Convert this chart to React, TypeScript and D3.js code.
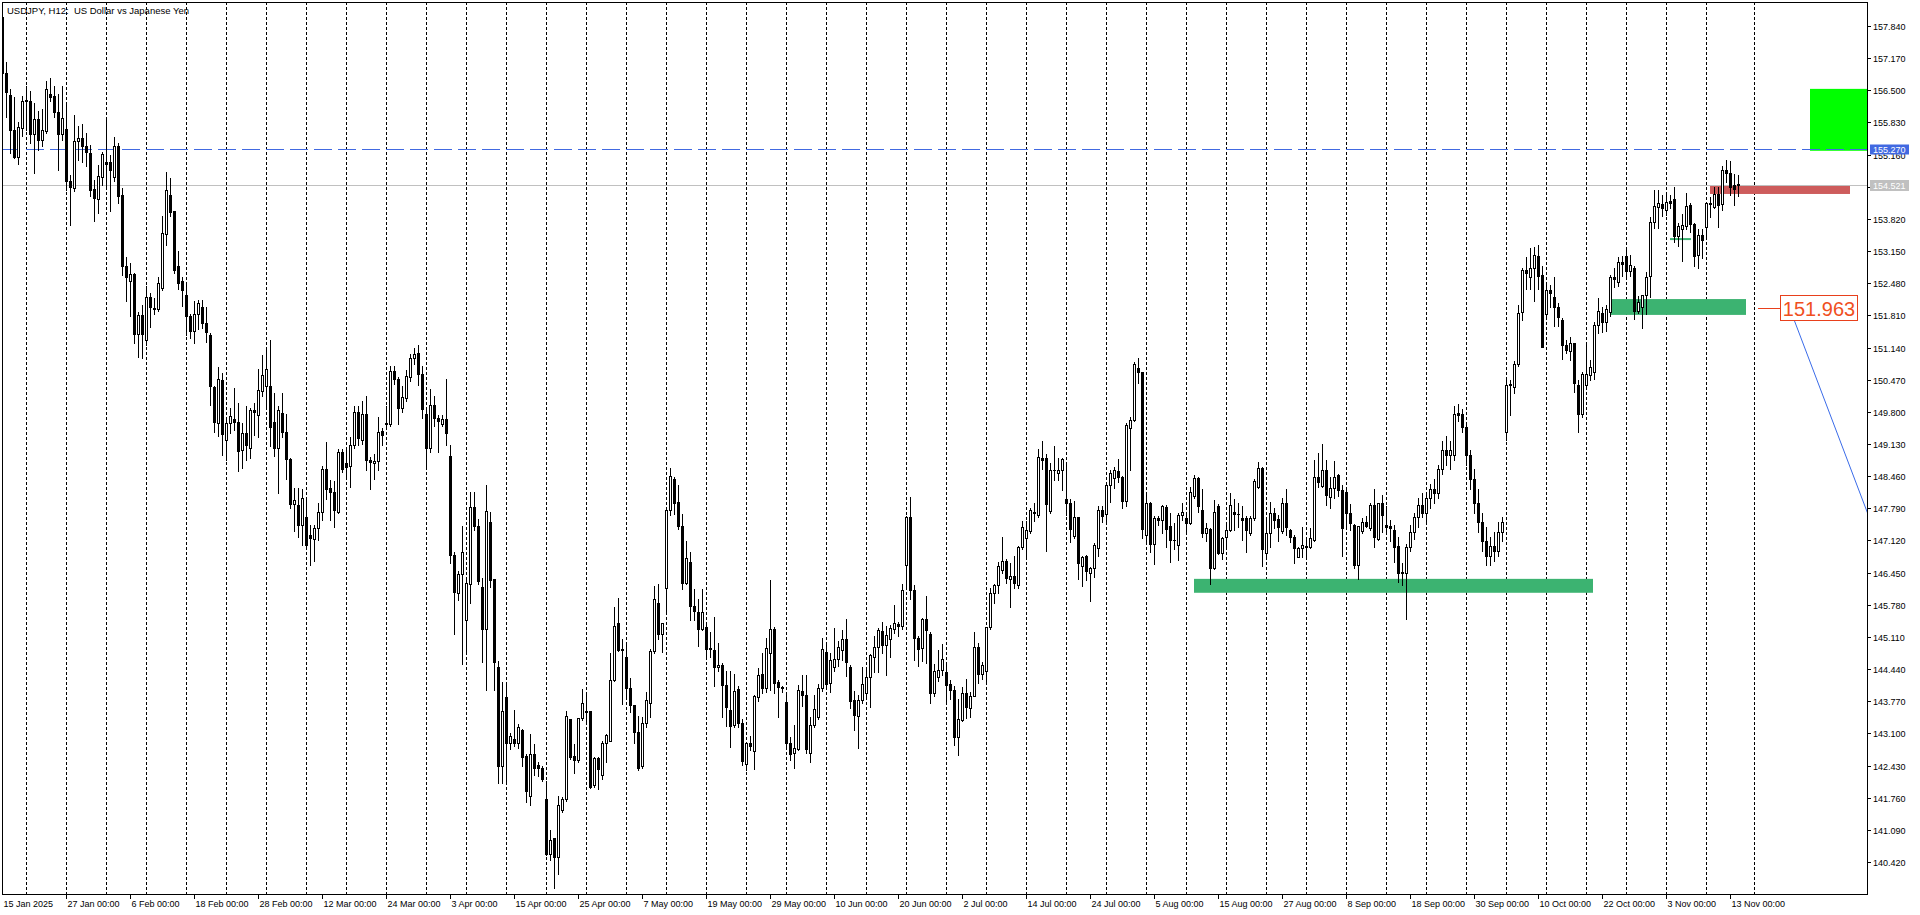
import React from 'react';
import * as d3 from 'd3';

// ---------- DATA ----------
const title = 'USDJPY, H12:  US Dollar vs Japanese Yen';

const timeLabels = [
  '15 Jan 2025', '27 Jan 00:00', '6 Feb 00:00', '18 Feb 00:00', '28 Feb 00:00', '12 Mar 00:00',
  '24 Mar 00:00', '3 Apr 00:00', '15 Apr 00:00', '25 Apr 00:00', '7 May 00:00', '19 May 00:00',
  '29 May 00:00', '10 Jun 00:00', '20 Jun 00:00', '2 Jul 00:00', '14 Jul 00:00', '24 Jul 00:00',
  '5 Aug 00:00', '15 Aug 00:00', '27 Aug 00:00', '8 Sep 00:00', '18 Sep 00:00', '30 Sep 00:00',
  '10 Oct 00:00', '22 Oct 00:00', '3 Nov 00:00', '13 Nov 00:00',
];
const barsPerLabel = 16;

const priceTicks = [
  140.42, 141.09, 141.76, 142.43, 143.10, 143.77, 144.44, 145.11, 145.78, 146.45, 147.12, 147.79,
  148.46, 149.13, 149.80, 150.47, 151.14, 151.81, 152.48, 153.15, 153.82, 154.49, 155.16, 155.83,
  156.50, 157.17, 157.84,
];

// [open, high, low, close]
const ohlc: number[][] = [
  [158.03, 158.05, 156.80, 156.86], [156.86, 157.08, 155.94, 156.46], [156.40, 156.52, 155.20, 155.67],
  [155.67, 156.36, 155.08, 155.12], [155.11, 155.83, 154.97, 155.73], [155.72, 156.38, 155.54, 156.28],
  [156.28, 156.59, 155.67, 156.29], [156.28, 156.49, 155.41, 155.58], [155.58, 156.24, 154.77, 155.90],
  [155.90, 156.06, 155.26, 155.47], [155.47, 156.11, 155.34, 155.67], [155.66, 156.70, 155.62, 156.52],
  [156.43, 156.76, 156.28, 156.37], [156.38, 156.58, 155.95, 156.04], [156.04, 156.42, 154.83, 155.58],
  [155.58, 156.58, 155.47, 155.92], [155.69, 156.24, 154.42, 154.60], [154.60, 154.74, 153.70, 154.49],
  [154.46, 155.99, 154.40, 155.45], [155.44, 155.76, 155.04, 155.50], [155.50, 155.80, 155.00, 155.33],
  [155.34, 155.61, 154.92, 155.22], [155.19, 155.36, 154.29, 154.42], [154.44, 154.63, 153.78, 154.25],
  [154.23, 154.95, 153.94, 154.72], [154.70, 155.22, 154.53, 155.17], [155.01, 155.88, 154.49, 154.97],
  [155.01, 155.15, 153.99, 154.84], [154.69, 155.52, 154.60, 155.33], [155.33, 155.41, 154.16, 154.29],
  [154.32, 154.46, 152.65, 152.83], [152.84, 153.02, 152.10, 152.60], [152.52, 152.90, 151.80, 152.67],
  [152.67, 152.69, 151.23, 151.43], [151.43, 151.89, 150.95, 151.82], [151.82, 152.03, 150.92, 151.43],
  [151.29, 152.42, 151.20, 152.19], [152.19, 152.27, 151.56, 151.98], [151.96, 152.17, 151.84, 151.94],
  [151.94, 152.61, 151.90, 152.48], [152.38, 153.88, 152.34, 153.52], [153.50, 154.80, 153.28, 154.42],
  [154.31, 154.67, 153.88, 153.97], [153.99, 153.99, 152.69, 152.76], [152.84, 153.16, 152.36, 152.49],
  [152.52, 152.60, 152.01, 152.33], [152.24, 152.47, 151.40, 151.79], [151.80, 151.84, 151.33, 151.49],
  [151.49, 152.10, 151.23, 151.84], [151.84, 152.13, 151.52, 152.06], [151.99, 152.13, 151.54, 151.65],
  [151.65, 151.99, 151.26, 151.47], [151.40, 151.44, 149.95, 150.33], [150.31, 150.33, 149.39, 149.58],
  [149.56, 150.74, 149.29, 150.48], [150.47, 150.61, 148.90, 149.33], [149.22, 149.63, 148.80, 149.56],
  [149.56, 149.88, 149.36, 149.72], [149.65, 150.29, 149.43, 149.58], [149.58, 149.99, 148.56, 148.99],
  [149.01, 149.56, 148.63, 149.36], [149.36, 149.93, 148.80, 149.11], [149.04, 149.88, 148.83, 149.84],
  [149.84, 149.98, 149.32, 149.79], [149.74, 150.69, 149.28, 150.26], [150.24, 150.99, 150.12, 150.57],
  [150.33, 151.09, 149.91, 150.69], [150.34, 151.30, 149.08, 149.48], [149.58, 150.19, 148.87, 149.04],
  [149.04, 149.93, 148.11, 149.83], [149.77, 150.20, 149.27, 149.37], [149.37, 149.76, 148.40, 148.81],
  [148.81, 148.83, 147.79, 147.88], [147.88, 148.21, 147.31, 147.97], [147.86, 148.21, 147.20, 147.45],
  [147.45, 148.19, 147.03, 148.00], [147.61, 148.00, 146.94, 147.03], [147.23, 147.45, 146.60, 147.17],
  [147.15, 147.45, 146.70, 147.38], [147.38, 147.90, 147.13, 147.71], [147.72, 148.67, 147.55, 148.61],
  [148.61, 149.18, 147.98, 148.19], [148.21, 148.37, 147.55, 148.14], [148.14, 148.35, 147.41, 147.76],
  [147.72, 149.02, 147.69, 148.97], [148.97, 149.02, 148.55, 148.61], [148.73, 149.04, 148.42, 148.66],
  [148.67, 149.28, 148.24, 149.11], [149.11, 149.93, 149.04, 149.79], [149.79, 149.93, 149.11, 149.25],
  // 90
  [149.22, 150.03, 149.12, 149.75], [149.75, 150.14, 148.59, 148.80], [148.80, 148.86, 148.19, 148.75],
  [148.74, 148.93, 148.40, 148.78], [148.78, 149.69, 148.59, 149.39], [149.40, 149.46, 149.10, 149.31],
  [149.57, 149.92, 149.45, 149.55], [149.55, 150.76, 149.50, 150.66], [150.66, 150.75, 150.37, 150.48],
  [150.48, 150.52, 149.54, 149.88], [149.88, 150.33, 149.80, 150.11], [150.09, 150.67, 150.03, 150.54],
  [150.52, 151.00, 150.45, 150.92], [150.92, 151.14, 150.79, 151.00], [151.03, 151.20, 150.36, 150.58],
  [150.58, 150.75, 149.67, 149.86], [149.75, 149.88, 148.67, 149.05], [149.05, 150.28, 148.97, 149.95],
  [149.95, 150.14, 149.50, 149.67], [149.67, 149.73, 148.97, 149.61], [149.55, 149.73, 149.50, 149.65],
  [149.65, 150.48, 149.10, 149.35], [148.89, 149.10, 146.66, 146.81], [146.81, 146.87, 145.18, 146.05],
  [146.02, 146.49, 145.87, 146.42], [146.42, 147.42, 144.54, 146.87], [145.47, 146.32, 144.79, 146.23],
  [146.21, 148.14, 145.81, 147.81], [147.81, 148.14, 147.33, 147.42], [147.42, 147.57, 146.21, 146.28],
  [146.15, 146.34, 144.58, 145.28], [145.28, 148.27, 144.01, 147.73], [147.51, 147.72, 146.15, 146.30],
  [146.32, 146.32, 144.01, 144.58], [144.48, 144.60, 142.06, 142.42], [142.42, 144.18, 142.06, 143.57],
  [143.86, 144.10, 142.06, 142.91], [142.91, 143.10, 142.78, 143.04], [142.99, 143.59, 142.84, 142.91],
  [142.91, 143.29, 142.80, 143.24], [143.18, 143.19, 142.42, 142.61], [142.63, 142.68, 141.66, 141.89],
  [141.79, 143.09, 141.61, 142.68], [142.68, 142.87, 142.23, 142.38], [142.44, 142.50, 142.21, 142.37],
  [142.38, 142.42, 142.10, 142.15], [141.74, 142.10, 140.56, 140.58], [140.58, 141.09, 140.47, 140.88],
  [140.93, 140.93, 139.88, 140.53], [140.53, 141.80, 140.16, 141.61], [141.50, 141.78, 141.47, 141.74],
  [141.74, 143.57, 141.70, 143.46], [143.41, 143.41, 142.57, 142.61], [142.63, 142.87, 142.27, 142.55],
  [142.55, 143.42, 142.50, 143.42], [143.42, 144.03, 143.37, 143.73], [143.55, 143.97, 143.29, 143.56],
  [143.56, 143.56, 141.97, 141.99], [142.02, 142.61, 141.99, 142.59], [142.59, 142.61, 141.95, 142.36],
  [142.23, 142.95, 142.14, 142.90], [142.90, 143.09, 142.51, 143.06], [142.95, 144.77, 142.95, 144.21],
  [144.21, 145.74, 144.20, 145.33], [145.39, 145.92, 144.81, 144.83], [144.86, 145.07, 143.72, 144.83],
  [144.69, 144.98, 143.84, 144.05], [144.05, 144.25, 143.54, 143.69], [143.69, 143.69, 142.91, 143.12],
  [143.12, 143.47, 142.34, 142.37], [142.42, 143.44, 142.38, 143.31], [143.31, 143.97, 143.24, 143.80],
  [143.73, 144.86, 143.44, 144.82], [144.82, 146.17, 144.78, 145.90], [145.81, 146.21, 145.07, 145.18],
  [145.18, 145.39, 144.80, 145.39], [146.13, 147.76, 145.66, 147.76], [147.76, 148.64, 147.66, 148.46],
  [148.40, 148.44, 147.68, 147.91], [147.92, 148.27, 147.36, 147.43], [147.43, 147.68, 146.11, 146.24],
  [146.24, 147.11, 146.22, 146.75], [146.67, 146.87, 145.46, 145.75], [145.75, 146.11, 145.46, 145.64],
  [145.62, 145.89, 144.92, 145.28], [145.28, 146.11, 145.26, 145.63], [145.31, 145.39, 144.65, 144.86],
  // 177
  [144.87, 145.21, 144.70, 144.85], [144.84, 145.52, 144.08, 144.48], [144.48, 144.98, 144.41, 144.53],
  [144.53, 144.56, 143.45, 144.10], [144.10, 144.40, 143.26, 143.66], [143.59, 144.39, 142.81, 143.26],
  [143.28, 144.34, 143.24, 143.99], [144.02, 144.09, 143.23, 143.31], [143.31, 143.40, 142.44, 142.53],
  [142.46, 142.91, 142.34, 142.90], [142.90, 143.05, 142.76, 142.83], [142.74, 143.90, 142.35, 143.87],
  [143.85, 144.46, 143.78, 144.32], [144.34, 144.77, 143.94, 144.04], [144.04, 145.08, 143.97, 144.87],
  [144.78, 146.30, 144.01, 145.27], [145.27, 145.31, 143.94, 144.15], [144.18, 144.21, 143.44, 144.06],
  [144.06, 144.09, 143.97, 144.05], [143.76, 143.97, 142.81, 142.91], [142.91, 143.03, 142.55, 142.67],
  [142.69, 143.28, 142.37, 142.79], [142.78, 144.11, 142.76, 144.01], [143.99, 144.32, 143.67, 143.89],
  [143.90, 144.32, 142.70, 142.77], [142.70, 143.45, 142.51, 143.28], [143.28, 143.90, 143.24, 143.60],
  [143.45, 144.13, 143.40, 144.04], [144.04, 145.08, 143.99, 144.85], [144.79, 144.96, 144.09, 144.13],
  [144.14, 144.77, 143.97, 144.63], [144.48, 145.29, 144.39, 144.65], [144.65, 145.03, 144.51, 144.91],
  [144.84, 145.26, 144.63, 145.06], [145.06, 145.48, 144.30, 144.58], [144.48, 144.53, 143.62, 143.78],
  [143.80, 143.99, 143.17, 143.49], [143.47, 143.90, 142.79, 143.80], [143.80, 144.48, 143.74, 144.13],
  [143.94, 144.48, 143.83, 144.27], [144.27, 144.76, 143.65, 144.74], [144.70, 145.12, 144.37, 144.90],
  [144.91, 145.29, 144.37, 145.26], [145.24, 145.43, 144.77, 144.94], [144.94, 145.34, 144.32, 145.15],
  [145.06, 145.36, 144.70, 145.29], [145.27, 145.78, 145.19, 145.41], [145.38, 145.43, 145.12, 145.33],
  [145.33, 146.22, 145.27, 146.08], [146.61, 147.63, 146.10, 147.60], [147.60, 148.03, 145.90, 146.09],
  [146.09, 146.19, 144.63, 145.08], [145.08, 145.12, 144.51, 144.85], [144.87, 145.50, 144.60, 145.48],
  [145.48, 145.96, 144.56, 145.26], [145.17, 145.22, 143.74, 143.94], [143.94, 144.55, 143.88, 144.41],
  [144.27, 144.83, 144.20, 144.42], [144.42, 144.96, 144.32, 144.65], [144.37, 144.56, 143.76, 144.11],
  [144.13, 144.21, 143.81, 144.01], [144.01, 144.08, 142.86, 143.03], [143.03, 143.81, 142.65, 143.40],
  [143.38, 144.06, 143.35, 143.95], [143.95, 144.23, 143.42, 143.66], [143.63, 143.97, 143.44, 143.88],
  [143.87, 145.22, 143.87, 144.91], [144.91, 144.98, 144.15, 144.34], [144.34, 144.58, 144.23, 144.53],
  [144.41, 145.32, 144.18, 145.32], [145.32, 146.12, 145.27, 146.03], [146.03, 146.22, 145.81, 146.19],
  [146.19, 146.68, 146.03, 146.59], [146.51, 147.19, 146.44, 146.70], [146.70, 146.73, 146.24, 146.33],
  [146.31, 146.64, 145.74, 146.37], [146.37, 146.80, 146.12, 146.23], [146.19, 147.01, 146.12, 146.98],
  [146.98, 147.53, 146.94, 147.41], [147.17, 147.53, 146.78, 147.33], [147.31, 147.79, 147.28, 147.76],
  [147.70, 147.91, 147.53, 147.72], [147.65, 149.02, 147.60, 148.85], [148.83, 149.19, 148.60, 148.80],
  [148.83, 148.92, 146.91, 147.88], [147.74, 148.74, 147.70, 148.59], [148.59, 149.09, 148.38, 148.58],
  [148.52, 148.83, 148.38, 148.58],
  // 265
  [148.58, 148.83, 148.17, 148.81], [147.98, 148.71, 147.65, 147.90], [147.90, 147.98, 147.08, 147.35],
  [147.22, 147.95, 147.17, 147.60], [147.60, 147.60, 146.31, 146.66], [146.58, 146.80, 146.17, 146.78],
  [146.80, 146.82, 146.30, 146.49], [146.44, 146.56, 145.85, 146.54], [146.54, 147.06, 146.36, 147.03],
  [146.96, 147.84, 146.80, 147.76], [147.76, 147.84, 147.51, 147.62], [147.67, 148.31, 147.51, 148.28],
  [148.28, 148.59, 147.93, 148.53], [148.42, 148.66, 148.21, 148.58], [148.57, 148.81, 148.33, 148.45],
  [148.44, 148.46, 147.79, 147.95], [147.95, 149.56, 147.84, 149.53], [149.46, 149.70, 148.58, 149.63],
  [149.62, 150.83, 149.60, 150.80], [150.71, 150.92, 150.41, 150.62], [150.62, 150.62, 147.17, 147.35],
  [147.24, 148.09, 147.05, 147.90], [147.90, 147.93, 146.87, 147.05], [147.05, 147.62, 146.63, 147.58],
  [147.58, 147.62, 147.44, 147.55], [147.55, 147.86, 147.28, 147.83], [147.81, 147.86, 146.99, 147.35],
  [147.42, 147.69, 146.68, 147.13], [147.13, 147.49, 146.94, 147.12], [147.03, 147.70, 146.72, 147.65],
  [147.65, 147.91, 147.55, 147.72], [147.58, 147.70, 147.28, 147.49], [147.49, 148.24, 147.47, 148.12],
  [148.04, 148.49, 148.00, 148.42], [148.42, 148.45, 147.72, 147.83], [147.76, 148.19, 147.20, 147.27],
  [147.27, 147.49, 147.10, 147.37], [147.35, 147.37, 146.22, 146.54], [146.54, 147.96, 146.52, 147.72],
  [147.83, 147.88, 146.84, 146.85], [146.85, 147.20, 146.73, 147.17], [147.19, 147.51, 146.99, 147.33],
  [147.33, 148.10, 147.31, 147.86], [147.71, 147.98, 147.34, 147.67], [147.67, 147.90, 147.41, 147.67],
  [147.58, 147.83, 147.13, 147.55], [147.58, 147.63, 146.87, 147.33], [147.27, 147.62, 147.24, 147.58],
  [147.58, 148.40, 147.55, 148.35], [148.24, 148.76, 148.21, 148.62], [148.62, 148.66, 146.58, 146.94],
  [146.85, 147.58, 146.75, 147.28], [147.28, 147.93, 146.99, 147.70], [147.69, 147.79, 147.38, 147.55],
  [147.56, 147.65, 147.10, 147.41], [147.31, 148.00, 147.27, 147.91], [147.91, 148.19, 147.24, 147.41],
  [147.33, 147.35, 147.08, 147.19], [147.19, 147.24, 146.66, 146.96], [146.78, 146.99, 146.77, 146.96],
  [146.96, 147.41, 146.77, 147.03], [147.00, 147.13, 146.77, 146.99], [146.99, 147.38, 146.96, 147.17],
  [147.12, 148.80, 147.10, 148.44], [148.44, 148.94, 148.24, 148.33], [148.26, 149.13, 148.24, 148.59],
  [148.59, 148.80, 147.86, 148.07], [148.03, 148.44, 147.79, 148.21], [148.21, 148.78, 148.00, 148.44],
  [148.49, 148.51, 148.05, 148.17], [148.17, 148.28, 146.80, 147.38], [148.12, 148.24, 147.35, 147.69],
  [147.69, 147.88, 147.33, 147.49], [147.44, 147.47, 146.54, 146.61], [146.61, 147.42, 146.31, 147.42],
  [147.32, 147.58, 147.27, 147.51], [147.51, 147.62, 147.41, 147.42], [147.38, 147.91, 147.34, 147.86],
  [147.86, 148.19, 146.98, 147.19], [147.15, 147.91, 147.13, 147.90], [147.90, 148.07, 147.30, 147.65],
  [147.44, 147.84, 147.29, 147.40], [147.42, 147.55, 147.10, 147.37], [147.34, 147.44, 146.68, 146.99],
  [147.01, 147.20, 146.26, 146.44], [146.47, 146.65, 146.20, 146.44], [146.45, 147.05, 145.48, 146.99],
  // 352
  [146.99, 147.45, 146.90, 147.30], [147.30, 147.70, 147.15, 147.60], [147.60, 148.00, 147.40, 147.85],
  [147.85, 148.10, 147.60, 147.70], [147.70, 148.10, 147.50, 148.00], [148.00, 148.30, 147.80, 148.20],
  [148.20, 148.40, 147.90, 148.10], [148.10, 148.70, 148.00, 148.60], [148.60, 149.20, 148.50, 149.00],
  [149.00, 149.30, 148.70, 148.90], [148.90, 149.20, 148.60, 149.00], [148.90, 149.92, 148.80, 149.76],
  [149.78, 149.97, 149.60, 149.73], [149.76, 149.85, 149.39, 149.49], [149.49, 149.55, 148.70, 148.90],
  [148.90, 149.00, 148.20, 148.40], [148.40, 148.60, 147.70, 147.90], [147.90, 148.20, 147.30, 147.50],
  [147.50, 147.70, 146.90, 147.10], [147.10, 147.40, 146.60, 146.80], [146.80, 147.20, 146.60, 147.00],
  [147.00, 147.30, 146.70, 146.90], [146.90, 147.50, 146.80, 147.30], [147.30, 147.60, 147.10, 147.50],
  // 376
  [149.37, 150.48, 149.22, 150.36], [150.36, 150.46, 149.73, 150.38], [150.31, 150.85, 150.20, 150.80],
  [150.80, 152.03, 150.76, 151.87], [151.89, 152.79, 151.72, 152.76], [152.76, 153.02, 152.35, 152.69],
  [152.62, 153.21, 152.37, 152.79], [152.79, 153.24, 152.10, 153.07], [153.05, 153.28, 152.35, 152.63],
  [152.65, 152.84, 151.16, 151.16], [151.84, 152.44, 151.75, 152.34], [152.34, 152.44, 151.99, 152.28],
  [152.20, 152.62, 151.59, 151.98], [151.98, 152.06, 151.59, 151.78], [151.72, 151.75, 150.90, 151.20],
  [151.20, 151.30, 151.02, 151.08], [151.06, 151.37, 150.88, 151.23], [151.23, 151.23, 150.22, 150.41],
  [150.36, 150.47, 149.37, 149.76], [149.76, 150.64, 149.70, 150.59], [150.36, 151.22, 150.27, 150.59],
  [150.57, 150.87, 150.47, 150.73], [150.62, 151.68, 150.48, 151.61], [151.61, 152.17, 151.45, 151.91],
  [151.87, 151.98, 151.47, 151.68], [151.68, 152.03, 151.49, 151.94], [151.89, 152.65, 151.80, 152.60],
  [152.60, 152.79, 152.41, 152.56], [152.51, 153.02, 152.42, 152.93], [152.93, 153.05, 152.63, 152.88],
  [153.05, 153.24, 152.63, 152.74], [152.74, 153.07, 152.63, 152.86], [152.79, 152.83, 151.73, 151.91],
  [151.91, 152.22, 151.85, 152.08], [151.99, 152.24, 151.54, 152.24], [152.24, 152.72, 151.84, 152.62],
  [152.63, 153.87, 152.19, 153.76], [153.76, 154.42, 153.63, 154.08], [154.06, 154.42, 153.63, 154.15],
  [154.13, 154.32, 153.88, 154.04], [154.00, 154.34, 153.90, 154.18], [154.19, 154.32, 154.04, 154.16],
  [154.23, 154.49, 153.33, 153.47], [153.47, 153.73, 153.26, 153.67], [153.62, 153.92, 152.95, 153.69],
  [153.67, 154.37, 153.60, 154.09], [154.11, 154.16, 153.54, 153.72], [153.72, 153.74, 152.83, 153.05],
  [153.07, 153.60, 152.79, 153.49], [153.49, 153.60, 153.00, 153.38], [153.66, 154.18, 153.40, 154.15],
  [154.15, 154.27, 153.87, 154.14], [154.06, 154.48, 154.04, 154.34], [154.34, 154.49, 153.65, 154.11],
  [154.13, 154.92, 154.01, 154.84], [154.84, 155.05, 154.58, 154.78], [154.78, 155.03, 154.32, 154.49],
  [154.53, 154.76, 154.11, 154.44], [154.55, 154.74, 154.30, 154.52],
];

// horizontal levels
const resistanceLevel = 155.27;
const currentPrice = 154.521;
const targetPrice = 151.963;

// zones: bar index range and price range
const zoneStart = [452, 427, 402.25, 298];
const zoneEnd = [470, 462, 436, 397.75];
const zoneTop = [156.53, 154.51, 152.15, 146.32];
const zoneBottom = [155.24, 154.34, 151.82, 146.03];
const zoneColor = ['#00FF00', '#CD5C5C', '#3CB371', '#3CB371'];

// small marker line
const markerLine = { from: 417, to: 422.25, price: 153.40 };

// trend line (bar index, price)
const trendIdx = [448.1, 470];
const trendPrice = [151.70, 146.9];

// ---------- CHART ----------
const W = 1920;
const H = 915;
const L = 2, T = 2, R = 1867, B = 894;

export default function App() {
  const x = d3.scaleLinear().domain([0, 1]).range([2, 6]);
  const y = d3.scaleLinear().domain([140.42, 157.84]).range([862, 26]);
  const col = (i: number) => Math.round(x(i));

  const gridIdx: number[] = [];
  for (let i = 6; i < ohlc.length; i += 10) gridIdx.push(i);
  gridIdx.push(438);

  const font = "'Liberation Sans', Arial, sans-serif";

  const candles = ohlc.map((d, i) => {
    const [o, h, l, c] = d;
    const cx = col(i);
    const top = Math.round(y(Math.max(o, c)));
    const bot = Math.round(y(Math.min(o, c)));
    const yh = Math.round(y(h));
    const yl = Math.round(y(l));
    const bull = c > o;
    const els: any[] = [];
    els.push(<line key={'w' + i} x1={cx + 0.5} x2={cx + 0.5} y1={yh} y2={yl + 1} stroke="#000" strokeWidth={1} />);
    if (bot - top <= 1) {
      els.push(<rect key={'b' + i} x={cx - 1} y={top} width={3} height={Math.max(1, bot - top + 1)} fill="#000" />);
    } else if (bull) {
      els.push(<rect key={'b' + i} x={cx - 0.5} y={top + 0.5} width={2} height={bot - top} fill="#fff" stroke="#000" strokeWidth={1} />);
    } else {
      els.push(<rect key={'b' + i} x={cx - 1} y={top} width={3} height={bot - top + 1} fill="#000" />);
    }
    return <g key={i}>{els}</g>;
  });

  const yRes = Math.round(y(resistanceLevel)) + 0.5;
  const yCur = Math.round(y(currentPrice)) + 0.5;
  const yTgt = y(targetPrice);

  const trend = d3.line<number>()
    .x((_, k) => x(trendIdx[k]))
    .y((p) => y(p));

  return (
    <svg width={W} height={H} style={{ position: 'absolute', left: 0, top: 0, display: 'block' }} fontFamily={font}>
      <defs>
        <clipPath id="plotClip">
          <rect x={L} y={T} width={R - L} height={B - T} />
        </clipPath>
      </defs>
      <rect x={0} y={0} width={W} height={H} fill="#fff" />
      <g clipPath="url(#plotClip)">
        {gridIdx.map((i) => (
          <line key={'g' + i} x1={col(i) + 0.5} x2={col(i) + 0.5} y1={T} y2={B} stroke="#000" strokeWidth={1} strokeDasharray="3,2" />
        ))}
        {zoneStart.map((s, k) => (
          <rect key={'z' + k} x={x(s)} y={y(zoneTop[k])} width={x(zoneEnd[k]) - x(s)} height={y(zoneBottom[k]) - y(zoneTop[k])} fill={zoneColor[k]} />
        ))}
        <rect x={x(markerLine.from)} y={y(markerLine.price) - 1} width={x(markerLine.to) - x(markerLine.from)} height={2} fill="#3CB371" />
        <line x1={L} x2={R} y1={yCur} y2={yCur} stroke="#C0C0C0" strokeWidth={1} />
        <line x1={L} x2={R} y1={yRes} y2={yRes} stroke="#4169E1" strokeWidth={1} strokeDasharray="18,6" />
        {candles}
        <path d={trend(trendPrice) || ''} fill="none" stroke="#3A6BE8" strokeWidth={1} />
        <line x1={x(439)} x2={1780} y1={Math.round(yTgt) + 0.5} y2={Math.round(yTgt) + 0.5} stroke="#E8401C" strokeWidth={1} />
        <rect x={1780.5} y={Math.round(yTgt) - 12.5} width={77} height={25} fill="#fff" stroke="#E8401C" strokeWidth={1} />
        <text x={1819} y={Math.round(yTgt) + 7.5} fontSize={20} fill="#F0501E" textAnchor="middle">{targetPrice.toFixed(3)}</text>
      </g>
      <rect x={L + 0.5} y={T + 0.5} width={R - L} height={B - T} fill="none" stroke="#000" strokeWidth={1} />

      {priceTicks.map((p) => {
        const yy = Math.round(y(p)) + 0.5;
        return (
          <g key={'p' + p}>
            <line x1={R} x2={R + 4} y1={yy} y2={yy} stroke="#000" />
            <text x={R + 6} y={yy + 3.3} fontSize={9} fill="#000">{p.toFixed(3)}</text>
          </g>
        );
      })}

      <rect x={R + 3} y={yRes - 5} width={39} height={10} fill="#4169E1" />
      <text x={R + 6} y={yRes + 3.3} fontSize={9} fill="#fff">{resistanceLevel.toFixed(3)}</text>
      <rect x={R + 3} y={yCur - 5.5} width={39} height={11} fill="#C0C0C0" />
      <text x={R + 6} y={yCur + 3.3} fontSize={9} fill="#fff">{currentPrice.toFixed(3)}</text>

      {timeLabels.map((t, k) => {
        const xx = col(k * barsPerLabel) + 0.5;
        return (
          <g key={'t' + k}>
            {k > 0 && <line x1={xx} x2={xx} y1={B} y2={B + 5} stroke="#000" />}
            <text x={xx + 1} y={907} fontSize={9} fill="#000">{t}</text>
          </g>
        );
      })}

      <text x={7} y={14} fontSize={9.5} fill="#000" style={{ whiteSpace: 'pre' }}>{title}</text>
    </svg>
  );
}
